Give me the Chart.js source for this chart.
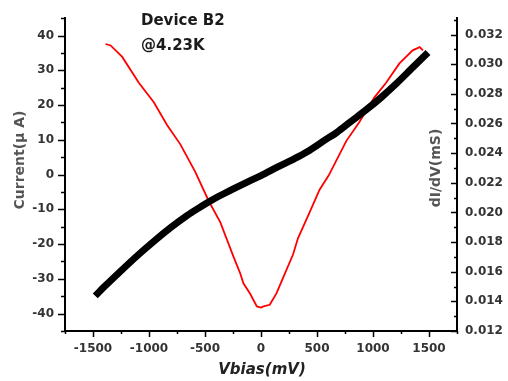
<!DOCTYPE html>
<html>
<head>
<meta charset="utf-8">
<script src="https://cdn.jsdelivr.net/npm/chart.js@4/dist/chart.umd.min.js"></script>
<style>
html,body{margin:0;padding:0;background:#fff;}
#wrap{width:508px;height:381px;position:relative;}
</style>
</head>
<body>
<div id="wrap"><canvas id="c" width="508" height="381"></canvas></div>
<script>
// I-V curve (left axis): bias in mV, current in µA
const ivBias = [-1480,-1400,-1254,-1100,-957,-800,-661,-550,-453,-350,-215,-100,0,150,300,408,583,675,800,942,1080,1209,1354,1491];
const ivCurrent = [-34.9,-32.3,-27.8,-23.2,-19.2,-15.1,-11.8,-9.5,-7.6,-5.8,-3.6,-1.8,-0.3,2.2,4.6,6.5,10.2,12.1,15.2,18.7,22.4,26.2,30.8,35.1];
// dI/dV curve (right axis): bias in mV, conductance in mS
const gBias = [-1388,-1343,-1239,-1091,-957,-839,-720,-587,-467,-364,-245,-186,-156,-97,-37,0,22,78,138,212,286,330,434,523,605,761,880,1013,1117,1236,1354,1417,1446];
const gCond = [0.03136,0.03126,0.03049,0.02874,0.02743,0.0259,0.02459,0.02273,0.02077,0.01934,0.0170,0.0159,0.0152,0.01451,0.01366,0.01358,0.01366,0.01377,0.01454,0.01585,0.01716,0.01825,0.0200,0.02153,0.0225,0.02481,0.02612,0.02776,0.02874,0.03005,0.03093,0.03115,0.03093];
// tick labels
const xTicks = [-1500,-1000,-500,0,500,1000,1500];
const yTicks = [-40,-30,-20,-10,0,10,20,30,40];
const y2Ticks = [0.012,0.014,0.016,0.018,0.020,0.022,0.024,0.026,0.028,0.030,0.032];
const annotationLines = ['Device B2','@4.23K'];
const xTitle = 'Vbias(mV)';
const yTitle = 'Current(\u03bc A)';
const y2Title = 'dI/dV(mS)';

const tickFont = {family:'DejaVu Sans', size:12, weight:'bold'};

const extras = {
  id:'extras',
  afterDraw(chart){
    const ctx = chart.ctx;
    const {left,right,top,bottom} = chart.chartArea;
    const sx = chart.scales.x, sy = chart.scales.y, sy2 = chart.scales.y2;
    ctx.save();
    ctx.strokeStyle = '#000';
    ctx.lineWidth = 1.5;
    ctx.beginPath();
    // left axis ticks (outward)
    for (let v = -45; v <= 45; v += 5) {
      const p = Math.round(sy.getPixelForValue(v)) + 0.5;
      const len = (v % 10 === 0) ? 7 : 4;
      ctx.moveTo(left - len, p); ctx.lineTo(left, p);
    }
    // bottom axis ticks (outward)
    for (let v = -1750; v <= 1750; v += 250) {
      const p = Math.round(sx.getPixelForValue(v)) + 0.5;
      const len = (v % 500 === 0) ? 6 : 3;
      ctx.moveTo(p, bottom); ctx.lineTo(p, bottom + len);
    }
    // right axis ticks (inward)
    for (let i = 12; i <= 33; i++) {
      const v = i / 1000;
      const p = Math.round(sy2.getPixelForValue(v)) + 0.5;
      const len = (i % 2 === 0) ? 6 : 3;
      ctx.moveTo(right - len, p); ctx.lineTo(right, p);
    }
    ctx.stroke();

    // annotation
    ctx.fillStyle = '#1a1a1a';
    ctx.textAlign = 'left';
    ctx.textBaseline = 'middle';
    ctx.font = 'bold 15px "DejaVu Sans"';
    ctx.fillText(annotationLines[0], 141, 21);
    ctx.fillText(annotationLines[1], 141, 46);

    // x title
    ctx.fillStyle = '#222';
    ctx.textAlign = 'center';
    ctx.font = 'italic bold 15px "DejaVu Sans"';
    ctx.fillText(xTitle, 262, 370);

    // left title
    ctx.fillStyle = '#555';
    ctx.font = 'bold 14px "DejaVu Sans"';
    ctx.save();
    ctx.translate(20, 160);
    ctx.rotate(-Math.PI/2);
    ctx.fillText(yTitle, 0, 0);
    ctx.restore();

    // right title (inside plot, next to right axis)
    ctx.save();
    ctx.translate(436, 168);
    ctx.rotate(-Math.PI/2);
    ctx.fillText(y2Title, 0, 0);
    ctx.restore();

    ctx.restore();
  }
};

new Chart(document.getElementById('c'), {
  type: 'line',
  data: {
    datasets: [
      {
        label: 'dI/dV',
        data: gBias.map((v,i)=>({x:v, y:gCond[i]})),
        yAxisID: 'y2',
        borderColor: '#ff0000',
        borderWidth: 1.8,
        pointRadius: 0,
        tension: 0,
        fill: false,
        order: 1
      },
      {
        label: 'I-V',
        data: ivBias.map((v,i)=>({x:v, y:ivCurrent[i]})),
        yAxisID: 'y',
        borderColor: '#000000',
        borderWidth: 7,
        pointRadius: 0,
        cubicInterpolationMode: 'monotone',
        fill: false,
        order: 0
      }
    ]
  },
  options: {
    responsive: false,
    animation: false,
    devicePixelRatio: 1,
    layout: {padding: {top: 8, left: 0, right: 0, bottom: 0}},
    plugins: {legend: {display: false}, tooltip: {enabled: false}, title: {display: false}},
    scales: {
      x: {
        type: 'linear', min: -1750, max: 1750,
        grid: {display: false, drawTicks: false},
        border: {display: true, color: '#000', width: 2},
        ticks: {font: tickFont, color: '#333', padding: 11, maxRotation: 0, callback: v => String(v)},
        afterBuildTicks: s => { s.ticks = xTicks.map(v => ({value: v})); },
        afterFit: s => { s.height = 50; }
      },
      y: {
        type: 'linear', position: 'left', min: -45, max: 45,
        grid: {display: false, drawTicks: false},
        border: {display: true, color: '#000', width: 2},
        ticks: {font: tickFont, color: '#333', padding: 11, callback: v => String(v)},
        afterBuildTicks: s => { s.ticks = yTicks.map(v => ({value: v})); },
        afterFit: s => { s.width = 65; }
      },
      y2: {
        type: 'linear', position: 'right', min: 0.012, max: 0.0331,
        grid: {display: false, drawTicks: false},
        border: {display: true, color: '#000', width: 2},
        ticks: {font: tickFont, color: '#333', padding: 8, callback: v => v.toFixed(3)},
        afterBuildTicks: s => { s.ticks = y2Ticks.map(v => ({value: v})); },
        afterFit: s => { s.width = 51; }
      }
    }
  },
  plugins: [extras]
});
</script>
</body>
</html>
